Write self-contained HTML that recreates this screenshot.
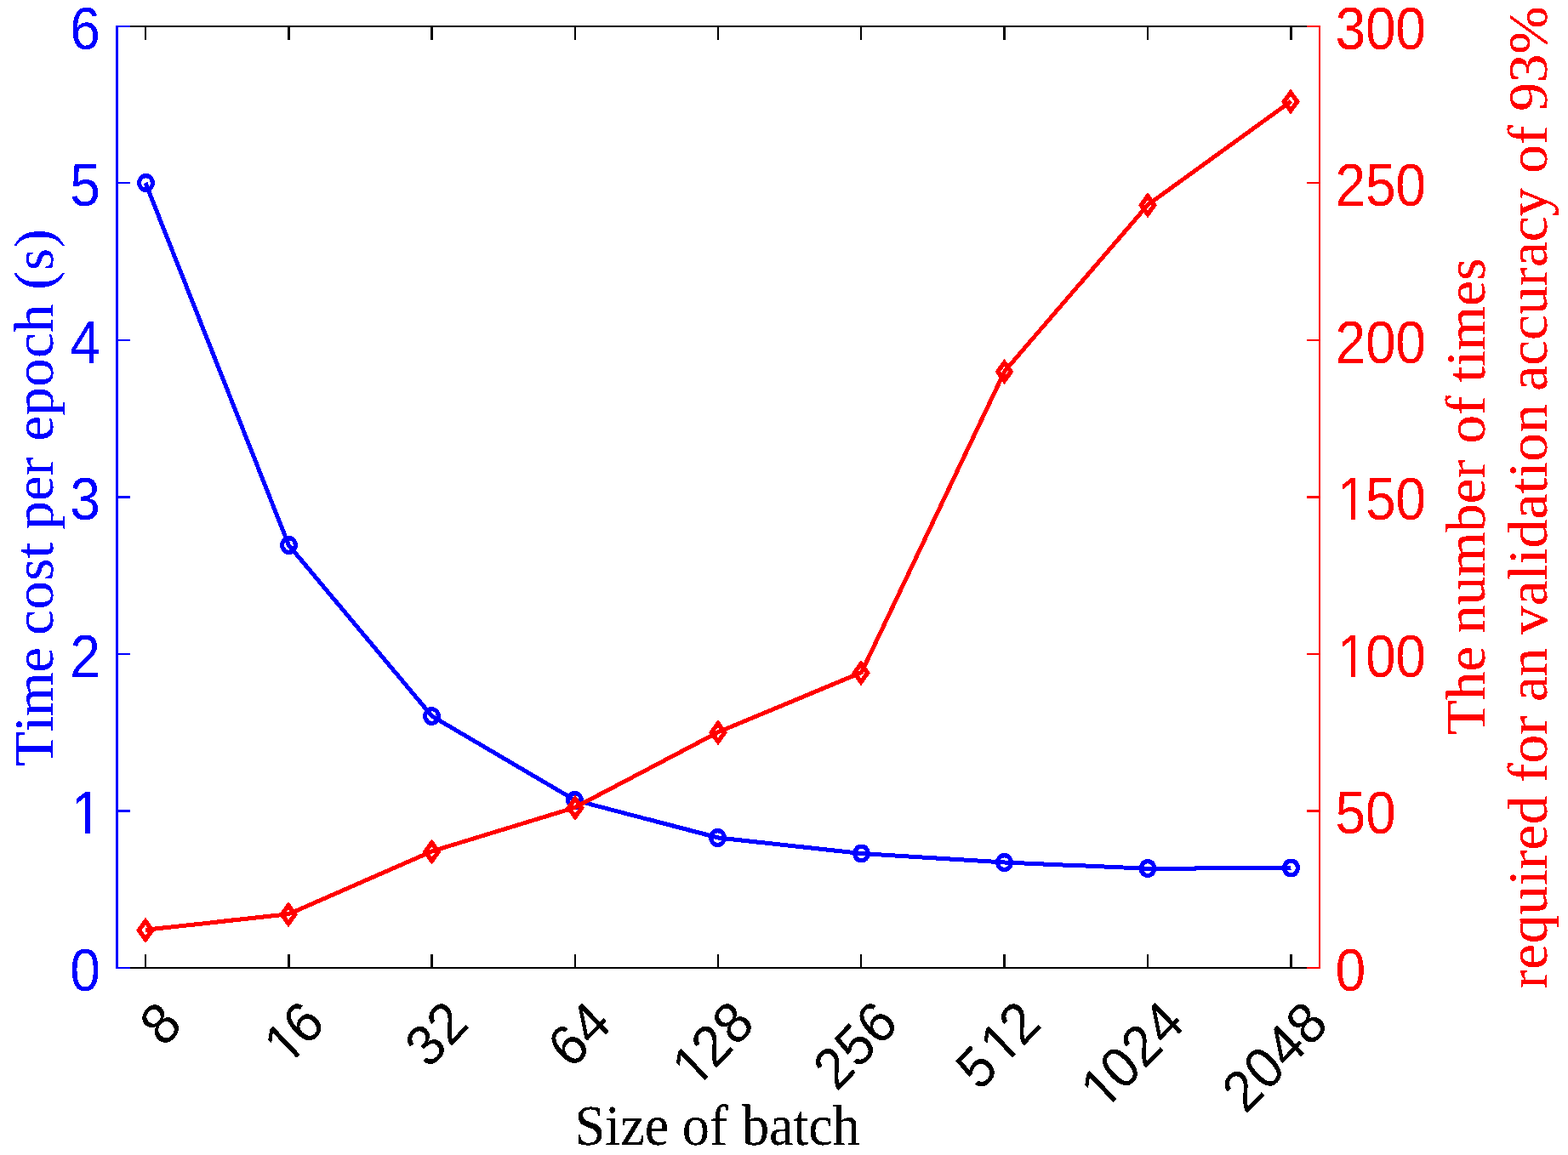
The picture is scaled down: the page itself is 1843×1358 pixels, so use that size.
<!DOCTYPE html>
<html lang="en"><head><meta charset="utf-8"><title>Time cost per epoch and number of epochs versus size of batch</title>
<style>
html,body{margin:0;padding:0;background:#fff;}
body{width:1843px;height:1358px;overflow:hidden;}
svg{display:block;}
text{white-space:pre;font-kerning:none;}
.sans{font-family:"Liberation Sans",sans-serif;}
.serif{font-family:"Liberation Serif",serif;}
.b{fill:#0000ff;}.r{fill:#ff0000;}.k{fill:#000;}
</style></head><body>
<svg width="1843" height="1358" viewBox="0 0 1843 1358">
<defs>
<filter id="hard" filterUnits="userSpaceOnUse" x="0" y="0" width="1843" height="1358" color-interpolation-filters="sRGB"><feComponentTransfer><feFuncA type="discrete" tableValues="0 1"/></feComponentTransfer></filter>
<filter id="hardt" filterUnits="userSpaceOnUse" x="0" y="0" width="1843" height="1358" color-interpolation-filters="sRGB"><feComponentTransfer><feFuncA type="discrete" tableValues="0 0 1 1 1"/></feComponentTransfer></filter>
</defs>
<rect x="0" y="0" width="1843" height="1358" fill="#ffffff"/>
<g shape-rendering="crispEdges">
<rect class="k" x="136" y="30" width="1416" height="2"/>
<rect class="k" x="136" y="1137" width="1416" height="2"/>
<rect class="k" x="170" y="30" width="2" height="17"/>
<rect class="k" x="170" y="1122" width="2" height="17"/>
<rect class="k" x="338" y="30" width="3" height="17"/>
<rect class="k" x="338" y="1122" width="3" height="17"/>
<rect class="k" x="506" y="30" width="3" height="17"/>
<rect class="k" x="506" y="1122" width="3" height="17"/>
<rect class="k" x="675" y="30" width="2" height="17"/>
<rect class="k" x="675" y="1122" width="2" height="17"/>
<rect class="k" x="843" y="30" width="2" height="17"/>
<rect class="k" x="843" y="1122" width="2" height="17"/>
<rect class="k" x="1011" y="30" width="2" height="17"/>
<rect class="k" x="1011" y="1122" width="2" height="17"/>
<rect class="k" x="1179" y="30" width="3" height="17"/>
<rect class="k" x="1179" y="1122" width="3" height="17"/>
<rect class="k" x="1348" y="30" width="2" height="17"/>
<rect class="k" x="1348" y="1122" width="2" height="17"/>
<rect class="k" x="1516" y="30" width="3" height="17"/>
<rect class="k" x="1516" y="1122" width="3" height="17"/>
<rect class="b" x="136" y="30" width="3" height="1109"/>
<rect class="b" x="136" y="1137" width="17" height="2"/>
<rect class="b" x="136" y="952" width="17" height="3"/>
<rect class="b" x="136" y="768" width="17" height="2"/>
<rect class="b" x="136" y="583" width="17" height="3"/>
<rect class="b" x="136" y="399" width="17" height="2"/>
<rect class="b" x="136" y="214" width="17" height="2"/>
<rect class="b" x="136" y="30" width="17" height="2"/>
<rect class="r" x="1550" y="30" width="2" height="1109"/>
<rect class="r" x="1536" y="1137" width="16" height="2"/>
<rect class="r" x="1536" y="952" width="16" height="3"/>
<rect class="r" x="1536" y="768" width="16" height="2"/>
<rect class="r" x="1536" y="583" width="16" height="3"/>
<rect class="r" x="1536" y="399" width="16" height="2"/>
<rect class="r" x="1536" y="214" width="16" height="2"/>
<rect class="r" x="1536" y="30" width="16" height="2"/>
</g>
<g filter="url(#hard)" fill="none" stroke="#0000ff" stroke-linejoin="round" stroke-linecap="butt">
<polyline points="171.00,215.00 339.31,640.90 507.62,841.90 675.94,940.90 844.25,985.00 1012.56,1003.50 1180.88,1014.00 1349.19,1021.26 1517.50,1020.50" stroke-width="5"/>
<ellipse cx="171.50" cy="215.00" rx="7.9" ry="8.4" stroke-width="5.25"/>
<ellipse cx="339.50" cy="640.90" rx="7.9" ry="8.4" stroke-width="5.25"/>
<ellipse cx="507.50" cy="841.90" rx="7.9" ry="8.4" stroke-width="5.25"/>
<ellipse cx="675.50" cy="940.90" rx="7.9" ry="8.4" stroke-width="5.25"/>
<ellipse cx="843.50" cy="985.00" rx="7.9" ry="8.4" stroke-width="5.25"/>
<ellipse cx="1012.50" cy="1003.50" rx="7.9" ry="8.4" stroke-width="5.25"/>
<ellipse cx="1180.50" cy="1014.00" rx="7.9" ry="8.4" stroke-width="5.25"/>
<ellipse cx="1349.00" cy="1021.00" rx="7.9" ry="8.4" stroke-width="5.25"/>
<ellipse cx="1517.50" cy="1020.50" rx="7.9" ry="8.4" stroke-width="5.25"/>
</g>
<g filter="url(#hard)" fill="none" stroke="#ff0000" stroke-linejoin="round" stroke-linecap="butt">
<polyline points="171.00,1093.22 339.31,1074.77 507.62,1000.97 675.94,949.31 844.25,860.75 1012.56,790.64 1180.88,436.40 1349.19,240.83 1517.50,119.06" stroke-width="5"/>
<path d="M171.00 1083.02L178.70 1093.72L171.00 1104.42L163.30 1093.72Z" stroke-width="5.3" stroke-linejoin="miter"/>
<path d="M339.00 1064.57L346.70 1075.27L339.00 1085.97L331.30 1075.27Z" stroke-width="5.3" stroke-linejoin="miter"/>
<path d="M507.50 990.77L515.20 1001.47L507.50 1012.17L499.80 1001.47Z" stroke-width="5.3" stroke-linejoin="miter"/>
<path d="M676.00 939.11L683.70 949.81L676.00 960.51L668.30 949.81Z" stroke-width="5.3" stroke-linejoin="miter"/>
<path d="M844.00 850.55L851.70 861.25L844.00 871.95L836.30 861.25Z" stroke-width="5.3" stroke-linejoin="miter"/>
<path d="M1012.00 780.44L1019.70 791.14L1012.00 801.84L1004.30 791.14Z" stroke-width="5.3" stroke-linejoin="miter"/>
<path d="M1180.50 426.20L1188.20 436.90L1180.50 447.60L1172.80 436.90Z" stroke-width="5.3" stroke-linejoin="miter"/>
<path d="M1349.00 230.63L1356.70 241.33L1349.00 252.03L1341.30 241.33Z" stroke-width="5.3" stroke-linejoin="miter"/>
<path d="M1517.00 108.86L1524.70 119.56L1517.00 130.26L1509.30 119.56Z" stroke-width="5.3" stroke-linejoin="miter"/>
</g>
<defs><clipPath id="c1" clipPathUnits="userSpaceOnUse"><path clip-rule="evenodd" d="M-400 -200H400V200H-400ZM-32.05 -5.49H-18.65V3.00H-32.05ZM-12.50 -5.49H0.53V3.00H-12.50Z"/></clipPath><clipPath id="c2" clipPathUnits="userSpaceOnUse"><path clip-rule="evenodd" d="M-400 -200H400V200H-400ZM6.13 -5.49H19.53V3.00H6.13ZM25.67 -5.49H38.71V3.00H25.67Z"/></clipPath><clipPath id="c3" clipPathUnits="userSpaceOnUse"><path clip-rule="evenodd" d="M-400 -200H400V200H-400ZM6.13 -5.49H19.53V3.00H6.13ZM25.67 -5.49H38.71V3.00H25.67Z"/></clipPath><clipPath id="c4" clipPathUnits="userSpaceOnUse"><path clip-rule="evenodd" d="M-400 -200H400V200H-400ZM-70.57 -5.40H-57.19V3.09H-70.57ZM-51.06 -5.40H-38.04V3.09H-51.06Z"/></clipPath><clipPath id="c5" clipPathUnits="userSpaceOnUse"><path clip-rule="evenodd" d="M-400 -200H400V200H-400ZM-109.91 -5.35H-96.52V3.13H-109.91ZM-90.39 -5.35H-77.38V3.13H-90.39Z"/></clipPath><clipPath id="c6" clipPathUnits="userSpaceOnUse"><path clip-rule="evenodd" d="M-400 -200H400V200H-400ZM-70.57 -5.40H-57.19V3.09H-70.57ZM-51.06 -5.40H-38.04V3.09H-51.06Z"/></clipPath><clipPath id="c7" clipPathUnits="userSpaceOnUse"><path clip-rule="evenodd" d="M-400 -200H400V200H-400ZM-149.24 -5.31H-135.86V3.18H-149.24ZM-129.72 -5.31H-116.71V3.18H-129.72Z"/></clipPath></defs>
<g filter="url(#hard)">
<text class="sans b" font-size="69.5" transform="translate(117.50,1164.50) scale(0.9246,1)" x="-38.18">0</text>
<text class="sans b" font-size="69.5" transform="translate(117.50,980.00) scale(0.9246,1)" x="-36.12" clip-path="url(#c1)">1</text>
<text class="sans b" font-size="69.5" transform="translate(117.50,795.50) scale(0.9246,1)" x="-38.18">2</text>
<text class="sans b" font-size="69.5" transform="translate(117.50,611.00) scale(0.9246,1)" x="-38.18">3</text>
<text class="sans b" font-size="69.5" transform="translate(117.50,426.50) scale(0.9246,1)" x="-38.18">4</text>
<text class="sans b" font-size="69.5" transform="translate(117.50,242.00) scale(0.9246,1)" x="-38.18">5</text>
<text class="sans b" font-size="69.5" transform="translate(117.50,57.50) scale(0.9246,1)" x="-38.18">6</text>
<text class="sans r" font-size="69.5" transform="translate(1569.60,1164.50) scale(0.9246,1)" x="0.00">0</text>
<text class="sans r" font-size="69.5" transform="translate(1569.60,980.00) scale(0.9246,1)" x="0.00 38.18">50</text>
<text class="sans r" font-size="69.5" transform="translate(1569.60,795.50) scale(0.9246,1)" x="2.05 38.18 76.36" clip-path="url(#c2)">100</text>
<text class="sans r" font-size="69.5" transform="translate(1569.60,611.00) scale(0.9246,1)" x="2.05 38.18 76.36" clip-path="url(#c3)">150</text>
<text class="sans r" font-size="69.5" transform="translate(1569.60,426.50) scale(0.9246,1)" x="0.00 38.18 76.36">200</text>
<text class="sans r" font-size="69.5" transform="translate(1569.60,242.00) scale(0.9246,1)" x="0.00 38.18 76.36">250</text>
<text class="sans r" font-size="69.5" transform="translate(1569.60,57.50) scale(0.9246,1)" x="0.00 38.18 76.36">300</text>
<text class="sans k" font-size="69.4" transform="translate(216.97,1206.55) scale(0.939,0.98) rotate(-45) scale(0.96,1)" x="-39.33" y="0.04">8</text>
<text class="sans k" font-size="69.4" transform="translate(384.89,1205.55) scale(0.939,0.98) rotate(-45) scale(0.96,1)" x="-74.64 -39.33" y="0.09 0.04" clip-path="url(#c4)">16</text>
<text class="sans k" font-size="69.4" transform="translate(553.80,1205.55) scale(0.939,0.98) rotate(-45) scale(0.96,1)" x="-78.67 -39.33" y="0.09 0.04">32</text>
<text class="sans k" font-size="69.4" transform="translate(721.51,1206.05) scale(0.939,0.98) rotate(-45) scale(0.96,1)" x="-78.67 -39.33" y="0.09 0.04">64</text>
<text class="sans k" font-size="69.4" transform="translate(889.83,1205.55) scale(0.939,0.98) rotate(-45) scale(0.96,1)" x="-113.97 -78.67 -39.33" y="0.13 0.09 0.04" clip-path="url(#c5)">128</text>
<text class="sans k" font-size="69.4" transform="translate(1058.64,1205.55) scale(0.939,0.98) rotate(-45) scale(0.96,1)" x="-118.00 -78.67 -39.33" y="0.13 0.09 0.04">256</text>
<text class="sans k" font-size="69.4" transform="translate(1226.45,1205.55) scale(0.939,0.98) rotate(-45) scale(0.96,1)" x="-118.00 -74.64 -39.33" y="0.13 0.09 0.04" clip-path="url(#c6)">512</text>
<text class="sans k" font-size="69.4" transform="translate(1395.16,1205.55) scale(0.939,0.98) rotate(-45) scale(0.96,1)" x="-153.31 -118.00 -78.67 -39.33" y="0.18 0.13 0.09 0.04" clip-path="url(#c7)">1024</text>
<text class="sans k" font-size="69.4" transform="translate(1564.08,1206.15) scale(0.939,0.98) rotate(-45) scale(0.96,1)" x="-157.33 -118.00 -78.67 -39.33" y="0.18 0.13 0.09 0.04">2048</text>
</g>
<g filter="url(#hardt)">
<text class="serif k" font-size="68" transform="translate(0,1346.00) scale(0.9455,1)"><tspan x="714.53 752.33 771.21 801.37">Size</tspan> <tspan x="848.06 882.06">of</tspan> <tspan x="922.25 956.11 986.16 1004.97 1035.03">batch</tspan></text>
<text class="serif b" font-size="65.5" transform="translate(62.00,0) rotate(-90) scale(1.0202,1)"><tspan x="-883.24 -843.58 -825.54 -775.04">Time</tspan> <tspan x="-731.88 -702.40 -669.18 -643.33">cost</tspan> <tspan x="-610.14 -577.39 -548.32">per</tspan> <tspan x="-508.26 -478.87 -445.75 -412.64 -383.24">epoch</tspan> <tspan x="-334.04 -311.80 -285.82">(s)</tspan></text>
<text class="serif r" font-size="65.5" transform="translate(1745.00,0) rotate(-90) scale(1.0228,1)"><tspan x="-845.04 -804.80 -771.86">The</tspan> <tspan x="-728.12 -695.37 -662.62 -611.68 -578.93 -549.85">number</tspan> <tspan x="-509.92 -477.17">of</tspan> <tspan x="-439.43 -421.14 -402.85 -351.64 -322.42">times</tspan></text>
<text class="serif r" font-size="65.5" transform="translate(1818.00,0) rotate(-90) scale(1.0276,1)"><tspan x="-1131.10 -1108.98 -1079.50 -1046.29 -1013.08 -994.63 -972.51 -943.03">required</tspan> <tspan x="-895.13 -873.32 -840.57">for</tspan> <tspan x="-802.86 -774.00">an</tspan> <tspan x="-726.13 -693.12 -663.81 -645.47 -627.13 -594.12 -564.81 -546.47 -528.12 -495.11">validation</tspan> <tspan x="-447.20 -418.16 -389.13 -360.09 -327.38 -305.59 -276.55 -247.51">accuracy</tspan> <tspan x="-198.19 -165.44">of</tspan> <tspan x="-127.26 -94.45 -61.65">93%</tspan></text>
</g>
</svg>
</body></html>
